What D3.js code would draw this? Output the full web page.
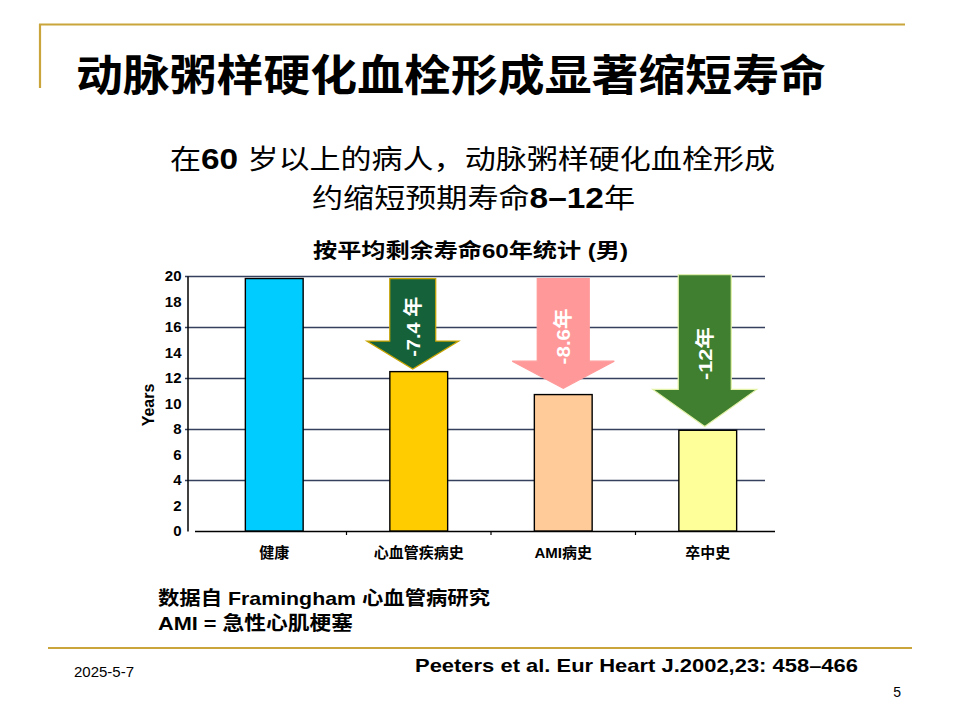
<!DOCTYPE html>
<html>
<head>
<meta charset="utf-8">
<script src="https://cdn.jsdelivr.net/npm/d3@7/dist/d3.min.js"></script>
<style>
  body { margin: 0; background: #fff; }
  svg { display: block; }
  text { font-family: "Liberation Sans", Arial, "Noto Sans CJK SC", sans-serif; }
</style>
</head>
<body>
<svg id="chart" width="960" height="720"></svg>
<script>
// ---------- data ----------
const categories = ["健康", "心血管疾病史", "AMI病史", "卒中史"];
const years = [19.8, 12.5, 10.7, 7.9];
const barColors = ["#00ccff", "#ffcc00", "#ffcc99", "#ffff99"];
const yTicks = [0, 2, 4, 6, 8, 10, 12, 14, 16, 18, 20];
const gridTicks = [4, 8, 12, 16, 20];

const arrowCats = ["心血管疾病史", "AMI病史", "卒中史"];
const arrowLabels = ["-7.4 年", "-8.6年", "-12年"];
const arrowFrom = [19.8, 19.8, 20.1];
const arrowTo = [12.7, 11.2, 8.2];
const arrowFill = ["#15623a", "#ff9999", "#3f7f2f"];
const arrowStroke = ["#c8a400", "#ff9999", "#e4f2a8"];

const title = "动脉粥样硬化血栓形成显著缩短寿命";
const chartTitle = "按平均剩余寿命60年统计 (男)";
const noteLines = ["数据自 Framingham 心血管病研究", "AMI = 急性心肌梗塞"];
const citation = "Peeters et al. Eur Heart J.2002,23: 458–466";
const dateText = "2025-5-7";
const pageNum = "5";

// ---------- drawing ----------
const svg = d3.select("#chart");
const gold = "#c9a53b";

svg.append("rect").attr("width", 960).attr("height", 720).attr("fill", "#fff");

// decorative frame lines
svg.append("line").attr("x1", 39).attr("x2", 905).attr("y1", 24.5).attr("y2", 24.5)
  .attr("stroke", gold).attr("stroke-width", 2.2);
svg.append("line").attr("x1", 40).attr("x2", 40).attr("y1", 24).attr("y2", 88)
  .attr("stroke", gold).attr("stroke-width", 2.2);
svg.append("line").attr("x1", 48).attr("x2", 912).attr("y1", 648).attr("y2", 648)
  .attr("stroke", gold).attr("stroke-width", 2.2);

// main title
svg.append("text").attr("x", 76).attr("y", 91)
  .attr("textLength", 750).attr("lengthAdjust", "spacingAndGlyphs")
  .style("font-family", "'Noto Sans CJK SC', sans-serif")
  .style("font-weight", 700).style("font-size", "43px").attr("fill", "#000")
  .text(title);

// subtitle
const sub1 = svg.append("text").attr("x", 170).attr("y", 169)
  .attr("textLength", 605).attr("lengthAdjust", "spacingAndGlyphs")
  .style("font-family", "'Noto Sans CJK SC', sans-serif")
  .style("font-size", "27px").attr("fill", "#000");
sub1.append("tspan").text("在");
sub1.append("tspan").style("font-family", "'Liberation Sans', Arial").style("font-weight", 700).style("font-size", "29px").text("60 ");
sub1.append("tspan").text("岁以上的病人，动脉粥样硬化血栓形成");

const sub2 = svg.append("text").attr("x", 312).attr("y", 208)
  .attr("textLength", 323).attr("lengthAdjust", "spacingAndGlyphs")
  .style("font-family", "'Noto Sans CJK SC', sans-serif")
  .style("font-size", "27px").attr("fill", "#000");
sub2.append("tspan").text("约缩短预期寿命");
sub2.append("tspan").style("font-family", "'Liberation Sans', Arial").style("font-weight", 700).style("font-size", "29px").text("8–12");
sub2.append("tspan").text("年");

// chart title
svg.append("text").attr("x", 313).attr("y", 258)
  .attr("textLength", 315).attr("lengthAdjust", "spacingAndGlyphs")
  .style("font-family", "'Liberation Sans', 'Noto Sans CJK SC', sans-serif")
  .style("font-weight", 700).style("font-size", "20px").attr("fill", "#000")
  .text(chartTitle);

// scales
const x = d3.scaleBand().domain(categories).range([202, 780]).paddingInner(0.6).paddingOuter(0.3);
const y = d3.scaleLinear().domain([0, 20]).range([531, 276]);

// gridlines
svg.append("g").selectAll("line").data(gridTicks).join("line")
  .attr("x1", 185).attr("x2", 765)
  .attr("y1", d => y(d) + 0.5).attr("y2", d => y(d) + 0.5)
  .attr("stroke", "#34405e").attr("stroke-width", 1.3);

// y axis
const yAxis = svg.append("g").attr("transform", "translate(187.5,0)")
  .call(d3.axisLeft(y).tickValues(yTicks).tickSize(0).tickPadding(6));
yAxis.select(".domain").attr("stroke", "#000").attr("stroke-width", 1.5);
yAxis.selectAll("text")
  .style("font-family", "'Liberation Sans', Arial").style("font-weight", 700)
  .style("font-size", "15px").attr("fill", "#000");

svg.append("text")
  .attr("transform", "translate(154,405) rotate(-90)")
  .attr("text-anchor", "middle")
  .style("font-family", "'Liberation Sans', Arial").style("font-weight", 700)
  .style("font-size", "16px").attr("fill", "#000")
  .text("Years");

// x axis line with ticks between categories
svg.append("line").attr("x1", 195).attr("x2", 775).attr("y1", y(0) + 0.5).attr("y2", y(0) + 0.5)
  .attr("stroke", "#000").attr("stroke-width", 1.5);
const boundaries = categories.slice(1).map(c => x(c) - x.step() * x.paddingInner() / 2);
svg.append("g").selectAll("line").data(boundaries).join("line")
  .attr("x1", d => d).attr("x2", d => d)
  .attr("y1", y(0)).attr("y2", y(0) + 4)
  .attr("stroke", "#000").attr("stroke-width", 1.2);

// bars
svg.append("g").selectAll("rect").data(categories).join("rect")
  .attr("x", d => x(d))
  .attr("y", (d, i) => y(years[i]))
  .attr("width", x.bandwidth())
  .attr("height", (d, i) => y(0) - y(years[i]))
  .attr("fill", (d, i) => barColors[i])
  .attr("stroke", "#000").attr("stroke-width", 1.4);

// x labels
svg.append("g").selectAll("text").data(categories).join("text")
  .attr("x", d => x(d) + x.bandwidth() / 2)
  .attr("y", 558)
  .attr("text-anchor", "middle")
  .style("font-family", "'Liberation Sans', 'Noto Sans CJK SC', sans-serif")
  .style("font-weight", 700).style("font-size", "15px").attr("fill", "#000")
  .text(d => d);

// arrows
const arrowShiftX = [-6, 0, -3];
const shaftHalf = [23, 26, 26.5];
const wingHalf = [46, 51, 52];
const headLen = [28, 27, 37];
const labelLen = [60, 56, 53];
const arrowG = svg.append("g");
arrowCats.forEach((c, i) => {
  const cx = x(c) + x.bandwidth() / 2 + arrowShiftX[i];
  const top = y(arrowFrom[i]);
  const tip = y(arrowTo[i]);
  const hs = tip - headLen[i];
  const sw = shaftHalf[i], ww = wingHalf[i];
  const path = d3.path();
  path.moveTo(cx - sw, top);
  path.lineTo(cx + sw, top);
  path.lineTo(cx + sw, hs);
  path.lineTo(cx + ww, hs);
  path.lineTo(cx, tip);
  path.lineTo(cx - ww, hs);
  path.lineTo(cx - sw, hs);
  path.closePath();
  arrowG.append("path").attr("d", path.toString())
    .attr("fill", arrowFill[i]).attr("stroke", arrowStroke[i]).attr("stroke-width", 1.2)
    .attr("stroke-linejoin", "miter");
  const ty = (top + tip) / 2 + 3;
  arrowG.append("text")
    .attr("transform", `translate(${cx + 7},${ty - labelLen[i] / 2}) rotate(-90)`)
    .attr("x", -labelLen[i])
    .attr("textLength", labelLen[i]).attr("lengthAdjust", "spacingAndGlyphs")
    .style("font-family", "'Liberation Sans', 'Noto Sans CJK SC', sans-serif")
    .style("font-weight", 700).style("font-size", "19px").attr("fill", "#fff")
    .text(arrowLabels[i]);
});

// notes
const noteLen = [332, 195];
svg.append("g").selectAll("text").data(noteLines).join("text")
  .attr("x", 158).attr("y", (d, i) => 605 + i * 25)
  .attr("textLength", (d, i) => noteLen[i]).attr("lengthAdjust", "spacingAndGlyphs")
  .style("font-family", "'Liberation Sans', 'Noto Sans CJK SC', sans-serif")
  .style("font-weight", 700).style("font-size", "19px").attr("fill", "#000")
  .text(d => d);

svg.append("text").attr("x", 415).attr("y", 672)
  .attr("textLength", 443).attr("lengthAdjust", "spacingAndGlyphs")
  .style("font-family", "'Liberation Sans', Arial")
  .style("font-weight", 700).style("font-size", "19px").attr("fill", "#000")
  .text(citation);

svg.append("text").attr("x", 74).attr("y", 677)
  .style("font-family", "'Liberation Sans', Arial")
  .style("font-size", "15px").attr("fill", "#000")
  .text(dateText);

svg.append("text").attr("x", 901).attr("y", 697).attr("text-anchor", "end")
  .style("font-family", "'Liberation Sans', Arial")
  .style("font-size", "14px").attr("fill", "#000")
  .text(pageNum);
</script>
</body>
</html>
